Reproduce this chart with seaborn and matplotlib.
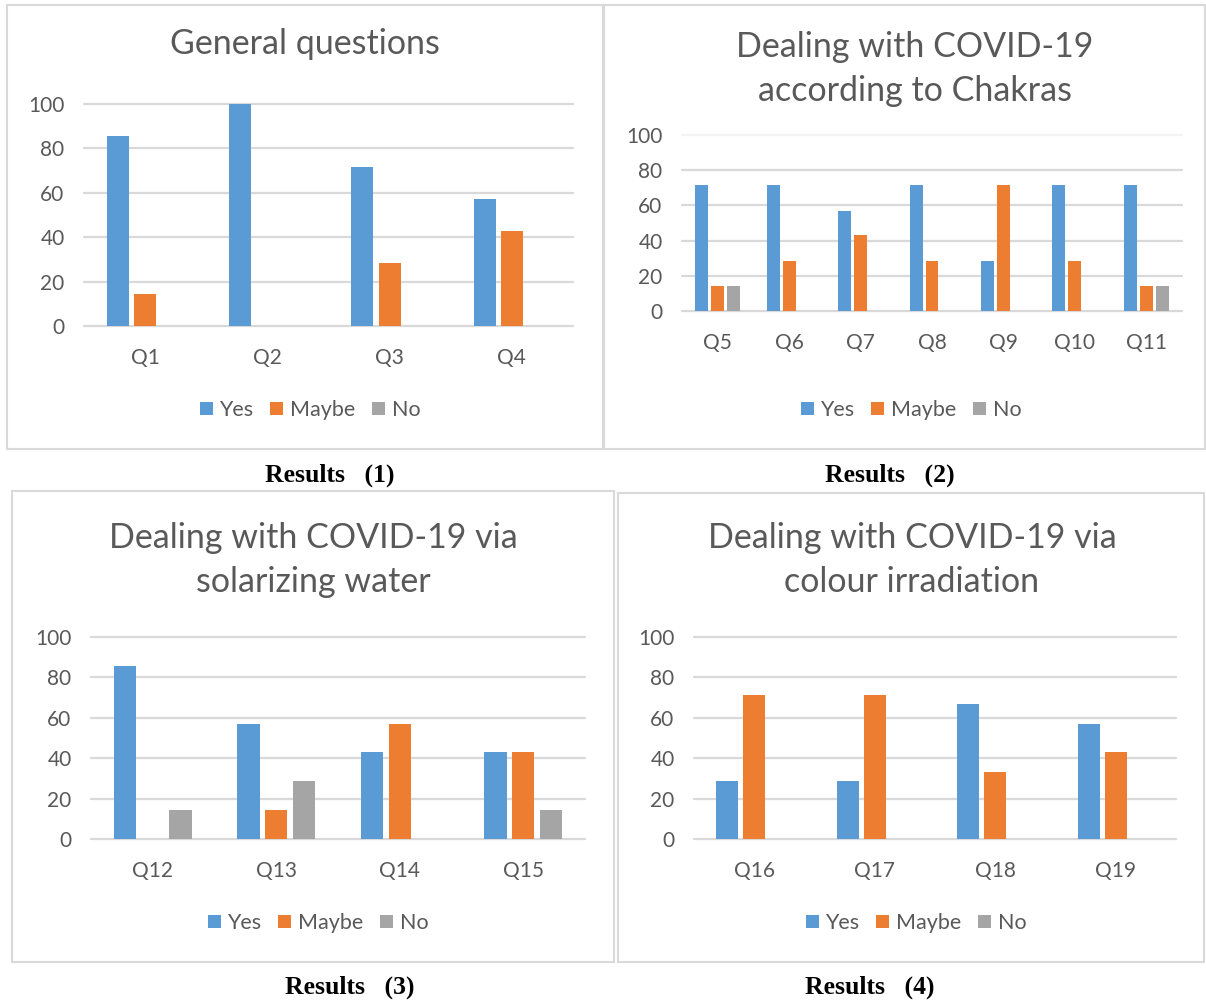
import matplotlib
matplotlib.use("Agg")
import matplotlib.pyplot as plt
from matplotlib.patches import Rectangle
import pandas as pd
import seaborn as sns

# survey results, percent of respondents
answers = ["Yes", "Maybe", "No"]
palette = {"Yes": "#5B9BD5", "Maybe": "#ED7D31", "No": "#A5A5A5"}

q_general = ["Q1", "Q2", "Q3", "Q4"]
yes_general = [85.7, 100, 71.4, 57.1]
maybe_general = [14.3, 0, 28.6, 42.9]
no_general = [0, 0, 0, 0]

q_chakras = ["Q5", "Q6", "Q7", "Q8", "Q9", "Q10", "Q11"]
yes_chakras = [71.4, 71.4, 57.1, 71.4, 28.6, 71.4, 71.4]
maybe_chakras = [14.3, 28.6, 42.9, 28.6, 71.4, 28.6, 14.3]
no_chakras = [14.3, 0, 0, 0, 0, 0, 14.3]

q_water = ["Q12", "Q13", "Q14", "Q15"]
yes_water = [85.7, 57.1, 42.9, 42.9]
maybe_water = [0, 14.3, 57.1, 42.9]
no_water = [14.3, 28.6, 0, 14.3]

q_colour = ["Q16", "Q17", "Q18", "Q19"]
yes_colour = [28.6, 28.6, 66.7, 57.1]
maybe_colour = [71.4, 71.4, 33.3, 42.9]
no_colour = [0, 0, 0, 0]

titles = ["General questions",
          "Dealing with COVID-19\naccording to Chakras",
          "Dealing with COVID-19 via\nsolarizing water",
          "Dealing with COVID-19 via\ncolour irradiation"]
captions = ["Results   (1)", "Results   (2)", "Results   (3)", "Results   (4)"]

W, H = 1206, 1001
TXT = "#595959"
GRID = "#D9D9D9"

sns.set_theme(style="white")
plt.rcParams["font.family"] = ["Lato", "DejaVu Sans"]


def frame(qs, yes, maybe, no):
    return pd.DataFrame({"question": qs * 3,
                         "answer": ["Yes"] * len(qs) + ["Maybe"] * len(qs) + ["No"] * len(qs),
                         "value": yes + maybe + no})


def fx(px):
    return px / W


def fy(py):
    return 1 - py / H


fig = plt.figure(figsize=(W / 100, H / 100), dpi=100)

panels = [
    # data, axes px (left, right, top, bottom), title (x, y), legend (x, y), caption (x, y), box (x0, x1, y0, y1)
    (frame(q_general, yes_general, maybe_general, no_general), (84, 573, 104, 326), (305, 44), (310, 410), (330, 475), (7, 603, 5, 449)),
    (frame(q_chakras, yes_chakras, maybe_chakras, no_chakras), (682, 1182, 135, 311), (915, 69), (911, 410), (890, 475), (604, 1205, 5, 449)),
    (frame(q_water, yes_water, maybe_water, no_water), (91, 585, 637, 839), (313, 560), (318, 923), (350, 987), (12, 614, 491, 962)),
    (frame(q_colour, yes_colour, maybe_colour, no_colour), (694, 1176, 637, 839), (912, 560), (916, 923), (870, 987), (618, 1204, 493, 962)),
]

for i, (df, (l, r, t, b), tpos, lpos, cpos, box) in enumerate(panels):
    fig.patches.append(Rectangle((fx(box[0]), fy(box[3])), fx(box[1] - box[0]), (box[3] - box[2]) / H,
                                 transform=fig.transFigure, fill=False, ec="#D9D9D9", lw=1.5))
    ax = fig.add_axes([fx(l), fy(b), fx(r - l), (b - t) / H])
    sns.barplot(data=df, x="question", y="value", hue="answer", hue_order=answers,
                palette=palette, saturation=1, width=0.67, gap=0.19, linewidth=0, ax=ax)
    ax.set_ylim(0, 100)
    ax.set_yticks(range(0, 101, 20))
    ax.set_xlabel("")
    ax.set_ylabel("")
    sns.despine(ax=ax, left=True, bottom=True)
    ax.grid(axis="y", color=GRID, lw=1.6)
    ax.set_axisbelow(True)
    for gl in ax.get_ygridlines():
        gl.set_clip_on(False)
    if i == 1:
        ax.get_ygridlines()[-1].set_color("#F4F4F4")
    ax.tick_params(axis="both", length=0, labelsize=15, labelcolor=TXT)
    ax.tick_params(axis="y", pad=14)
    ax.tick_params(axis="x", pad=16)
    sns.move_legend(ax, loc="center", bbox_to_anchor=(fx(lpos[0]), fy(lpos[1])),
                    bbox_transform=fig.transFigure, ncol=3, frameon=False, title=None,
                    fontsize=15.5, handlelength=0.6, handleheight=0.6, handletextpad=0.3,
                    columnspacing=0.8, labelcolor=TXT)
    fig.text(fx(tpos[0]), fy(tpos[1]), titles[i], ha="center", va="center",
             fontsize=24.5, color=TXT, linespacing=1.45)
    fig.text(fx(cpos[0]), fy(cpos[1]), captions[i], ha="center", va="center",
             fontsize=18.5, fontweight="bold", family="Liberation Serif", color="black")

fig.savefig("out.png", dpi=100, facecolor="white")
